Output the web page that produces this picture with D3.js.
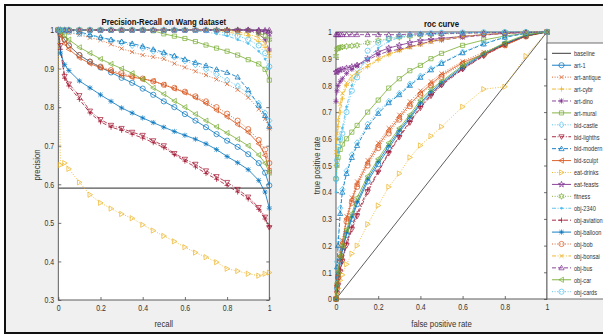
<!DOCTYPE html>
<html>
<head>
<meta charset="utf-8">
<script src="https://cdn.jsdelivr.net/npm/d3@7"></script>
<style>
  body { margin: 0; background: #fff; }
  svg { display: block; font-family: "Liberation Sans", Arial, sans-serif; }
</style>
</head>
<body>
<svg id="chart" width="603" height="335"></svg>
<script>
const seriesNames = ["art-1", "art-antique", "art-cybr", "art-dino", "art-mural", "bld-castle", "bld-lighths",
  "bld-modern", "bld-sculpt", "eat-drinks", "eat-feasts", "fitness", "obj-2340", "obj-aviation",
  "obj-balloon", "obj-bob", "obj-bonsai", "obj-bus", "obj-car", "obj-cards"];

// precision-recall: shared recall grid, one precision row per series
const recallGrid = [0, 0.01, 0.03, 0.05, 0.1, 0.15, 0.2, 0.25, 0.3, 0.35, 0.4, 0.45, 0.5, 0.55, 0.6, 0.65, 0.7, 0.75, 0.8, 0.85, 0.9, 0.95, 0.98, 1];
const precisionRows = [
  [1, 0.99, 0.975, 0.96, 0.935, 0.918, 0.903, 0.89, 0.876, 0.863, 0.848, 0.832, 0.815, 0.8, 0.782, 0.765, 0.748, 0.73, 0.713, 0.697, 0.678, 0.655, 0.63, 0.597],
  [1, 1, 0.996, 0.993, 0.988, 0.98, 0.974, 0.963, 0.952, 0.943, 0.935, 0.93, 0.925, 0.913, 0.903, 0.893, 0.883, 0.872, 0.86, 0.845, 0.825, 0.795, 0.77, 0.745],
  [1, 1, 1, 1, 1, 1, 1, 1, 1, 1, 1, 1, 1, 1, 1, 1, 1, 0.998, 0.995, 0.99, 0.985, 0.97, 0.955, 0.93],
  [1, 1, 1, 1, 1, 1, 1, 1, 1, 1, 1, 1, 1, 1, 1, 1, 1, 1, 1, 1, 1, 0.99, 0.975, 0.948],
  [1, 1, 1, 1, 1, 1, 1, 1, 1, 1, 1, 0.998, 0.99, 0.984, 0.978, 0.97, 0.961, 0.953, 0.945, 0.935, 0.923, 0.912, 0.898, 0.87],
  [1, 1, 0.998, 0.995, 0.99, 0.985, 0.98, 0.973, 0.967, 0.96, 0.953, 0.945, 0.938, 0.93, 0.92, 0.91, 0.898, 0.885, 0.87, 0.855, 0.835, 0.81, 0.785, 0.765],
  [1, 0.96, 0.88, 0.86, 0.83, 0.79, 0.768, 0.753, 0.745, 0.735, 0.727, 0.713, 0.7, 0.68, 0.665, 0.652, 0.635, 0.62, 0.605, 0.587, 0.567, 0.54, 0.515, 0.488],
  [1, 1, 1, 1, 0.995, 0.988, 0.981, 0.975, 0.97, 0.965, 0.958, 0.95, 0.942, 0.933, 0.924, 0.916, 0.908, 0.898, 0.89, 0.878, 0.845, 0.805, 0.778, 0.75],
  [1, 0.985, 0.965, 0.95, 0.928, 0.913, 0.902, 0.893, 0.883, 0.878, 0.873, 0.868, 0.858, 0.848, 0.838, 0.825, 0.81, 0.792, 0.775, 0.755, 0.735, 0.705, 0.675, 0.635],
  [1, 0.65, 0.655, 0.64, 0.605, 0.573, 0.552, 0.537, 0.523, 0.512, 0.495, 0.48, 0.466, 0.452, 0.437, 0.423, 0.411, 0.398, 0.381, 0.375, 0.368, 0.363, 0.368, 0.371],
  [1, 1, 1, 1, 1, 1, 1, 1, 1, 1, 1, 1, 1, 1, 1, 1, 1, 1, 1, 1, 1, 0.998, 0.995, 0.99],
  [1, 1, 1, 1, 1, 1, 1, 1, 1, 1, 1, 1, 1, 1, 1, 1, 1, 1, 1, 1, 0.997, 0.992, 0.985, 0.975],
  [1, 1, 1, 1, 1, 1, 1, 1, 1, 1, 1, 1, 1, 1, 1, 0.998, 0.995, 0.99, 0.985, 0.975, 0.965, 0.945, 0.925, 0.9],
  [1, 0.95, 0.875, 0.855, 0.82, 0.785, 0.762, 0.748, 0.74, 0.73, 0.72, 0.708, 0.695, 0.677, 0.66, 0.645, 0.628, 0.613, 0.597, 0.58, 0.562, 0.535, 0.51, 0.49],
  [1, 0.94, 0.91, 0.895, 0.868, 0.85, 0.832, 0.815, 0.798, 0.785, 0.772, 0.76, 0.748, 0.737, 0.727, 0.717, 0.705, 0.69, 0.672, 0.656, 0.638, 0.61, 0.58, 0.538],
  [1, 0.99, 0.975, 0.96, 0.935, 0.918, 0.905, 0.896, 0.888, 0.88, 0.874, 0.867, 0.858, 0.85, 0.84, 0.828, 0.815, 0.8, 0.783, 0.765, 0.743, 0.715, 0.69, 0.655],
  [1, 1, 1, 1, 1, 1, 1, 1, 1, 1, 1, 1, 1, 1, 1, 1, 1, 1, 1, 0.995, 0.99, 0.98, 0.965, 0.94],
  [1, 1, 1, 1, 1, 1, 1, 1, 1, 1, 1, 1, 1, 1, 1, 1, 1, 1, 1, 1, 1, 1, 1, 1],
  [1, 0.995, 0.985, 0.975, 0.955, 0.94, 0.925, 0.912, 0.9, 0.888, 0.872, 0.85, 0.834, 0.816, 0.8, 0.782, 0.765, 0.749, 0.733, 0.717, 0.7, 0.676, 0.655, 0.63],
  [1, 1, 1, 1, 1, 1, 1, 1, 1, 1, 1, 1, 1, 1, 1, 1, 1, 0.998, 0.99, 0.985, 0.975, 0.96, 0.94, 0.905]
];
const prBaseline = [0.59, 0.59];

// roc: shared false positive rate grid, one tpr row per series
const fprGrid = [0, 0.005, 0.01, 0.02, 0.03, 0.05, 0.075, 0.1, 0.15, 0.2, 0.25, 0.3, 0.35, 0.4, 0.45, 0.5, 0.6, 0.7, 0.8, 0.9, 1];
const tprRows = [
  [0, 0.04, 0.08, 0.14, 0.18, 0.24, 0.3, 0.355, 0.44, 0.505, 0.565, 0.625, 0.675, 0.73, 0.77, 0.805, 0.865, 0.915, 0.955, 0.985, 1],
  [0, 0.06, 0.1, 0.17, 0.22, 0.31, 0.38, 0.44, 0.52, 0.585, 0.64, 0.69, 0.74, 0.78, 0.815, 0.845, 0.89, 0.925, 0.955, 0.985, 1],
  [0.5, 0.6, 0.645, 0.7, 0.75, 0.8, 0.82, 0.84, 0.87, 0.895, 0.915, 0.93, 0.945, 0.955, 0.965, 0.975, 0.985, 0.99, 0.995, 1, 1],
  [0.74, 0.78, 0.8, 0.815, 0.825, 0.845, 0.86, 0.872, 0.895, 0.915, 0.928, 0.935, 0.945, 0.955, 0.965, 0.97, 0.98, 0.988, 0.995, 0.998, 1],
  [0.45, 0.5, 0.53, 0.56, 0.58, 0.6, 0.625, 0.65, 0.7, 0.745, 0.79, 0.825, 0.855, 0.875, 0.9, 0.92, 0.95, 0.97, 0.985, 0.995, 1],
  [0, 0.14, 0.22, 0.34, 0.41, 0.48, 0.54, 0.585, 0.655, 0.705, 0.74, 0.77, 0.805, 0.835, 0.862, 0.885, 0.925, 0.958, 0.982, 0.995, 1],
  [0, 0.02, 0.05, 0.1, 0.14, 0.2, 0.26, 0.31, 0.4, 0.475, 0.545, 0.605, 0.66, 0.715, 0.76, 0.8, 0.86, 0.91, 0.952, 0.985, 1],
  [0, 0.12, 0.2, 0.32, 0.4, 0.47, 0.53, 0.575, 0.645, 0.695, 0.735, 0.765, 0.8, 0.83, 0.858, 0.882, 0.922, 0.955, 0.98, 0.995, 1],
  [0, 0.05, 0.09, 0.16, 0.21, 0.3, 0.37, 0.43, 0.51, 0.575, 0.63, 0.68, 0.73, 0.77, 0.805, 0.838, 0.885, 0.918, 0.95, 0.985, 1],
  [0, 0.02, 0.04, 0.07, 0.09, 0.13, 0.17, 0.2, 0.28, 0.35, 0.42, 0.47, 0.53, 0.575, 0.61, 0.645, 0.72, 0.786, 0.795, 0.91, 1],
  [0.85, 0.85, 0.855, 0.858, 0.86, 0.865, 0.87, 0.876, 0.9, 0.925, 0.94, 0.95, 0.96, 0.968, 0.972, 0.976, 0.983, 0.99, 0.995, 0.998, 1],
  [0.91, 0.935, 0.94, 0.942, 0.944, 0.946, 0.948, 0.95, 0.96, 0.968, 0.975, 0.98, 0.984, 0.988, 0.99, 0.992, 0.995, 0.997, 0.999, 1, 1],
  [0.4, 0.5, 0.55, 0.6, 0.64, 0.72, 0.8, 0.85, 0.9, 0.94, 0.965, 0.98, 0.985, 0.99, 0.992, 0.994, 0.996, 0.998, 1, 1, 1],
  [0, 0.03, 0.06, 0.11, 0.15, 0.21, 0.27, 0.32, 0.41, 0.478, 0.55, 0.61, 0.665, 0.72, 0.765, 0.805, 0.862, 0.912, 0.954, 0.986, 1],
  [0, 0.05, 0.09, 0.15, 0.19, 0.25, 0.31, 0.365, 0.45, 0.515, 0.575, 0.632, 0.682, 0.735, 0.777, 0.81, 0.87, 0.918, 0.957, 0.987, 1],
  [0, 0.05, 0.08, 0.15, 0.2, 0.29, 0.36, 0.42, 0.5, 0.565, 0.62, 0.672, 0.722, 0.765, 0.8, 0.832, 0.88, 0.915, 0.95, 0.983, 1],
  [0.55, 0.62, 0.67, 0.73, 0.77, 0.81, 0.835, 0.85, 0.875, 0.9, 0.918, 0.93, 0.942, 0.952, 0.962, 0.97, 0.982, 0.99, 0.995, 1, 1],
  [0.99, 0.99, 0.99, 0.99, 0.99, 0.99, 0.99, 0.99, 0.99, 0.99, 0.99, 0.99, 0.992, 0.993, 0.994, 0.995, 0.996, 0.997, 0.998, 0.999, 1],
  [0, 0.06, 0.1, 0.16, 0.2, 0.26, 0.32, 0.38, 0.46, 0.525, 0.585, 0.64, 0.69, 0.745, 0.785, 0.815, 0.875, 0.92, 0.96, 0.99, 1],
  [0.45, 0.52, 0.57, 0.6, 0.62, 0.7, 0.78, 0.83, 0.93, 0.96, 0.975, 0.985, 0.99, 0.993, 0.995, 0.997, 0.998, 0.999, 1, 1, 1]
];
const rocBaseline = [0, 1];

const xTicks = [0, 0.2, 0.4, 0.6, 0.8, 1];
const prYTicks = [0.3, 0.4, 0.5, 0.6, 0.7, 0.8, 0.9, 1];
const rocYTicks = [0, 0.1, 0.2, 0.3, 0.4, 0.5, 0.6, 0.7, 0.8, 0.9, 1];

// matlab look
const colorOrder = ["#0072BD", "#D95319", "#EDB120", "#7E2F8E", "#77AC30", "#4DBEEE", "#A2142F"];
const markerOf = ["o", "x", "+", "*", "s", "d", "v", "^", "<", ">", "p", "h", ".", "+", "*", "o", "x", "^", "<", "o"];
const styleOf = ["-", ":", "-.", "--", "-", ":", "-.", "--", "-", ":", "-", ":", "-.", "--", "-", ":", "-.", "--", "-", ":"];
const dashFor = { "-": null, ":": "1,1.6", "-.": "4,1.6,1,1.6", "--": "4,2" };
const axisColor = "#4d4d4d";
const textColor = "#333";
const squeeze = 0.82; // the reference font is narrower than anything installed

function star(n, ro, ri) {
  let p = [];
  for (let k = 0; k < 2 * n; k++) {
    const a = -Math.PI / 2 + k * Math.PI / n;
    const r = k % 2 ? ri : ro;
    p.push([r * Math.cos(a), r * Math.sin(a)]);
  }
  return "M" + p.map(q => q[0].toFixed(2) + "," + q[1].toFixed(2)).join("L") + "Z";
}

function markerPath(m, s) {
  const t = s * 0.8;
  switch (m) {
    case "o": return `M${s},0A${s},${s} 0 1,1 ${-s},0A${s},${s} 0 1,1 ${s},0Z`;
    case ".": return `M1,0A1,1 0 1,1 -1,0A1,1 0 1,1 1,0Z`;
    case "x": return `M${-t},${-t}L${t},${t}M${-t},${t}L${t},${-t}`;
    case "+": return `M${-s},0L${s},0M0,${-s}L0,${s}`;
    case "*": return `M${-s},0L${s},0M0,${-s}L0,${s}M${-t},${-t}L${t},${t}M${-t},${t}L${t},${-t}`;
    case "s": return `M${-t},${-t}H${t}V${t}H${-t}Z`;
    case "d": return `M0,${-s * 1.2}L${s},0L0,${s * 1.2}L${-s},0Z`;
    case "^": return `M0,${-s}L${s},${s * 0.75}L${-s},${s * 0.75}Z`;
    case "v": return `M0,${s}L${s},${-s * 0.75}L${-s},${-s * 0.75}Z`;
    case "<": return `M${-s},0L${s * 0.75},${-s}L${s * 0.75},${s}Z`;
    case ">": return `M${s},0L${-s * 0.75},${-s}L${-s * 0.75},${s}Z`;
    case "p": return star(5, s * 1.2, s * 0.5);
    case "h": return star(6, s * 1.15, s * 0.6);
  }
}

const svg = d3.select("#chart");

// figure background and frame
svg.append("rect").attr("x", 5).attr("y", 5).attr("width", 640).attr("height", 328)
  .attr("fill", "#f0f0f0").attr("stroke", "#111").attr("stroke-width", 2);

function label(parent, x, y, str, size, anchor, rotate, sx = squeeze) {
  const g = parent.append("g")
    .attr("transform", `translate(${x},${y})${rotate ? " rotate(-90)" : ""} scale(${sx},1)`);
  return g.append("text").attr("text-anchor", anchor).attr("font-size", size)
    .attr("fill", textColor).text(str);
}

function drawAxes(box, x, y, yTicks, title, xLabel, yLabel, yLabelX) {
  const g = svg.append("g");
  g.append("rect").attr("x", box.left).attr("y", box.top)
    .attr("width", box.right - box.left).attr("height", box.bottom - box.top)
    .attr("fill", "#fff");

  const fmt = d => d === 0 ? "0" : d === 1 ? "1" : d3.format(".1f")(d);
  const axes = [
    [d3.axisBottom(x).tickValues(xTicks).tickFormat(fmt), `translate(0,${box.bottom})`],
    [d3.axisTop(x).tickValues(xTicks).tickFormat(""), `translate(0,${box.top})`],
    [d3.axisLeft(y).tickValues(yTicks).tickFormat(fmt), `translate(${box.left},0)`],
    [d3.axisRight(y).tickValues(yTicks).tickFormat(""), `translate(${box.right},0)`]
  ];
  axes.forEach(([ax, tr]) => {
    const a = g.append("g").attr("transform", tr)
      .call(ax.tickSizeInner(-3).tickSizeOuter(0).tickPadding(5));
    a.select(".domain").remove();
    a.selectAll("line").attr("stroke", axisColor).attr("stroke-width", 0.8);
    a.selectAll("text").attr("fill", textColor).attr("font-size", 8.5).attr("font-family", null)
      .attr("transform", `scale(${squeeze},1)`);
  });

  g.append("rect").attr("x", box.left).attr("y", box.top)
    .attr("width", box.right - box.left).attr("height", box.bottom - box.top)
    .attr("fill", "none").attr("stroke", axisColor).attr("stroke-width", 0.9);

  const cx = (box.left + box.right) / 2;
  label(g, cx, box.top - 5, title, 9.5, "middle").attr("font-weight", "bold").attr("fill", "#111");
  label(g, cx, 327, xLabel, 9.5, "middle");
  label(g, yLabelX, (box.top + box.bottom) / 2, yLabel, 9.5, "middle", true);
}

function drawSeries(layer, x, y, xs, ys, i) {
  const color = colorOrder[i % colorOrder.length];
  const pts = xs.map((v, k) => [x(v), y(ys[k])]);
  layer.append("path").attr("d", d3.line()(pts)).attr("fill", "none")
    .attr("stroke", color).attr("stroke-width", 0.8)
    .attr("stroke-dasharray", dashFor[styleOf[i]]);
  const m = markerOf[i];
  layer.selectAll(null).data(pts).enter().append("path")
    .attr("transform", d => `translate(${d[0]},${d[1]})`)
    .attr("d", markerPath(m, 2.6))
    .attr("fill", m === "." ? color : "none")
    .attr("stroke", color).attr("stroke-width", 0.7);
}

// precision-recall panel
const prBox = { left: 58.3, right: 269.3, top: 30, bottom: 300 };
const prX = d3.scaleLinear().domain([0, 1]).range([prBox.left, prBox.right]);
const prY = d3.scaleLinear().domain([0.3, 1]).range([prBox.bottom, prBox.top]);
drawAxes(prBox, prX, prY, prYTicks, "Precision-Recall on Wang dataset", "recall", "precision", 40);
const prLayer = svg.append("g");
prLayer.append("path").attr("d", d3.line()([[prX(0), prY(prBaseline[0])], [prX(1), prY(prBaseline[1])]]))
  .attr("stroke", "#555").attr("stroke-width", 1.3);
precisionRows.forEach((row, i) => drawSeries(prLayer, prX, prY, recallGrid, row, i));

// roc panel
const rocBox = { left: 336, right: 547, top: 32, bottom: 299 };
const rocX = d3.scaleLinear().domain([0, 1]).range([rocBox.left, rocBox.right]);
const rocY = d3.scaleLinear().domain([0, 1]).range([rocBox.bottom, rocBox.top]);
drawAxes(rocBox, rocX, rocY, rocYTicks, "roc curve", "false positive rate", "true positive rate", 320);
const rocLayer = svg.append("g");
rocLayer.append("path").attr("d", d3.line()(rocBaseline.map(v => [rocX(v), rocY(v)])))
  .attr("stroke", "#333").attr("stroke-width", 0.8);
tprRows.forEach((row, i) => drawSeries(rocLayer, rocX, rocY, fprGrid, row, i));

// legend
const legend = svg.append("g").attr("transform", "translate(547,43)");
legend.append("rect").attr("width", 100).attr("height", 256)
  .attr("fill", "#fff").attr("stroke", axisColor).attr("stroke-width", 0.8);
const rowH = 11.92;
const entries = ["baseline"].concat(seriesNames);
entries.forEach((name, j) => {
  const yy = 10.3 + j * rowH;
  const e = legend.append("g").attr("transform", `translate(0,${yy})`);
  if (j === 0) {
    e.append("line").attr("x1", 5).attr("x2", 24).attr("stroke", "#222").attr("stroke-width", 0.9);
  } else {
    const i = j - 1;
    const color = colorOrder[i % colorOrder.length];
    e.append("line").attr("x1", 5).attr("x2", 24).attr("stroke", color).attr("stroke-width", 0.9)
      .attr("stroke-dasharray", dashFor[styleOf[i]]);
    e.append("path").attr("transform", "translate(14.5,0)").attr("d", markerPath(markerOf[i], 2.6))
      .attr("fill", markerOf[i] === "." ? color : "none").attr("stroke", color).attr("stroke-width", 0.7);
  }
  label(e, 27, 2.8, name, 7.2, "start", false, 0.78);
});
</script>
</body>
</html>
